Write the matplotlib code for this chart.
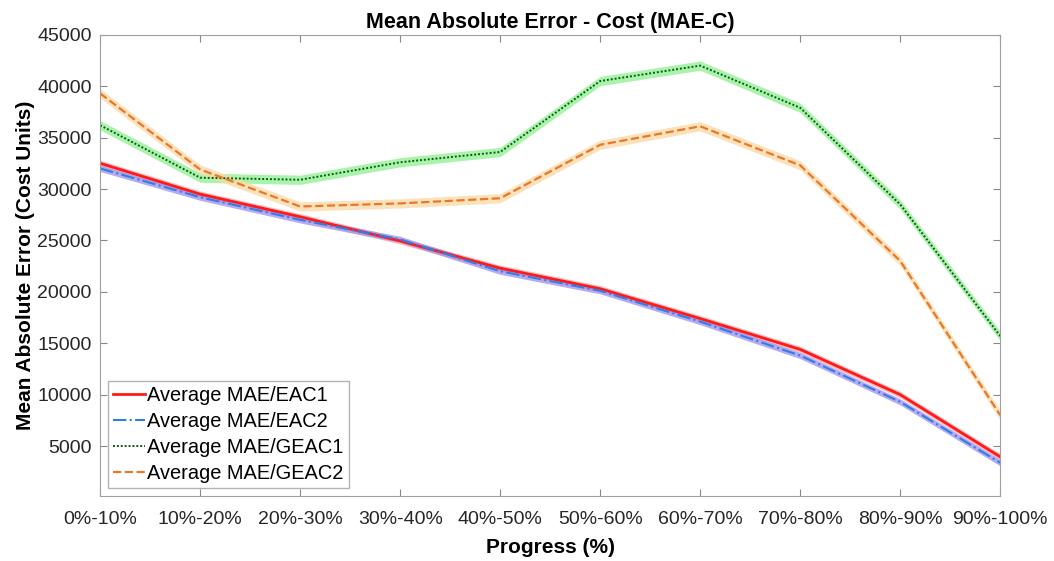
import matplotlib
matplotlib.use("Agg")
import matplotlib.pyplot as plt
import numpy as np

plt.rcParams['font.family'] = ['Liberation Sans', 'DejaVu Sans']

labels = ['0%-10%', '10%-20%', '20%-30%', '30%-40%', '40%-50%',
          '50%-60%', '60%-70%', '70%-80%', '80%-90%', '90%-100%']
eac1 = [32500, 29500, 27300, 24950, 22300, 20300, 17400, 14400, 10000, 3950]
eac2 = [32000, 29200, 27000, 25100, 22000, 20100, 17100, 13800, 9300, 3370]
geac1 = [36200, 31100, 30900, 32600, 33600, 40500, 42000, 37900, 28500, 15700]
geac2 = [39300, 31900, 28300, 28600, 29100, 34300, 36100, 32300, 23000, 8000]
band = [300, 300, 450, 450]

x = np.arange(len(labels))

fig, ax = plt.subplots(figsize=(10.54, 5.61), dpi=100)
fig.subplots_adjust(left=0.095, right=0.949, top=0.938, bottom=0.116)

series = [
    (eac1, 'Average MAE/EAC1', '#ff1a1a', '-', 2.0, '#f5a3a8'),
    (eac2, 'Average MAE/EAC2', '#2f7fe0', '-.', 1.5, '#9d8ff2'),
    (geac1, 'Average MAE/GEAC1', '#0a5a1a', (0, (1, 1)), 1.4, '#8ef08e'),
    (geac2, 'Average MAE/GEAC2', '#e8782a', '--', 1.6, '#fbd9a5'),
]

# shaded bands first so the lines sit on top
for (vals, _, _, _, _, fc), w in zip(series, band):
    v = np.array(vals)
    ax.fill_between(x, v - w, v + w, color=fc, alpha=0.75, lw=0)

for vals, lab, c, ls, lw, _ in series:
    ax.plot(x, vals, color=c, ls=ls, lw=lw, label=lab)

ax.set_xlim(0, 9)
ax.set_ylim(150, 45000)
ax.set_xticks(x)
ax.set_xticklabels(labels)
ax.set_yticks(np.arange(5000, 45001, 5000))
ax.tick_params(direction='in', top=True, right=True, length=5, color='#888888',
               labelsize=14, labelcolor='#262626')
ax.tick_params(axis='x', pad=11)
ax.tick_params(axis='y', pad=6)
for s in ax.spines.values():
    s.set_color('#a0a0a0')

ax.set_title('Mean Absolute Error - Cost (MAE-C)', fontsize=15.5, fontweight='bold', pad=5)
ax.set_xlabel('Progress (%)', fontsize=15, fontweight='bold', labelpad=7)
ax.set_ylabel('Mean Absolute Error (Cost Units)', fontsize=15, fontweight='bold', labelpad=2)

leg = ax.legend(loc='lower left', fontsize=14.4, frameon=True, fancybox=False,
                borderpad=0.25, handlelength=1.6, handletextpad=0.1, labelspacing=0.35,
                borderaxespad=0.4)
leg.get_frame().set_edgecolor('#a0a0a0')
leg.get_frame().set_linewidth(1.0)

fig.savefig('out.png', dpi=100)
